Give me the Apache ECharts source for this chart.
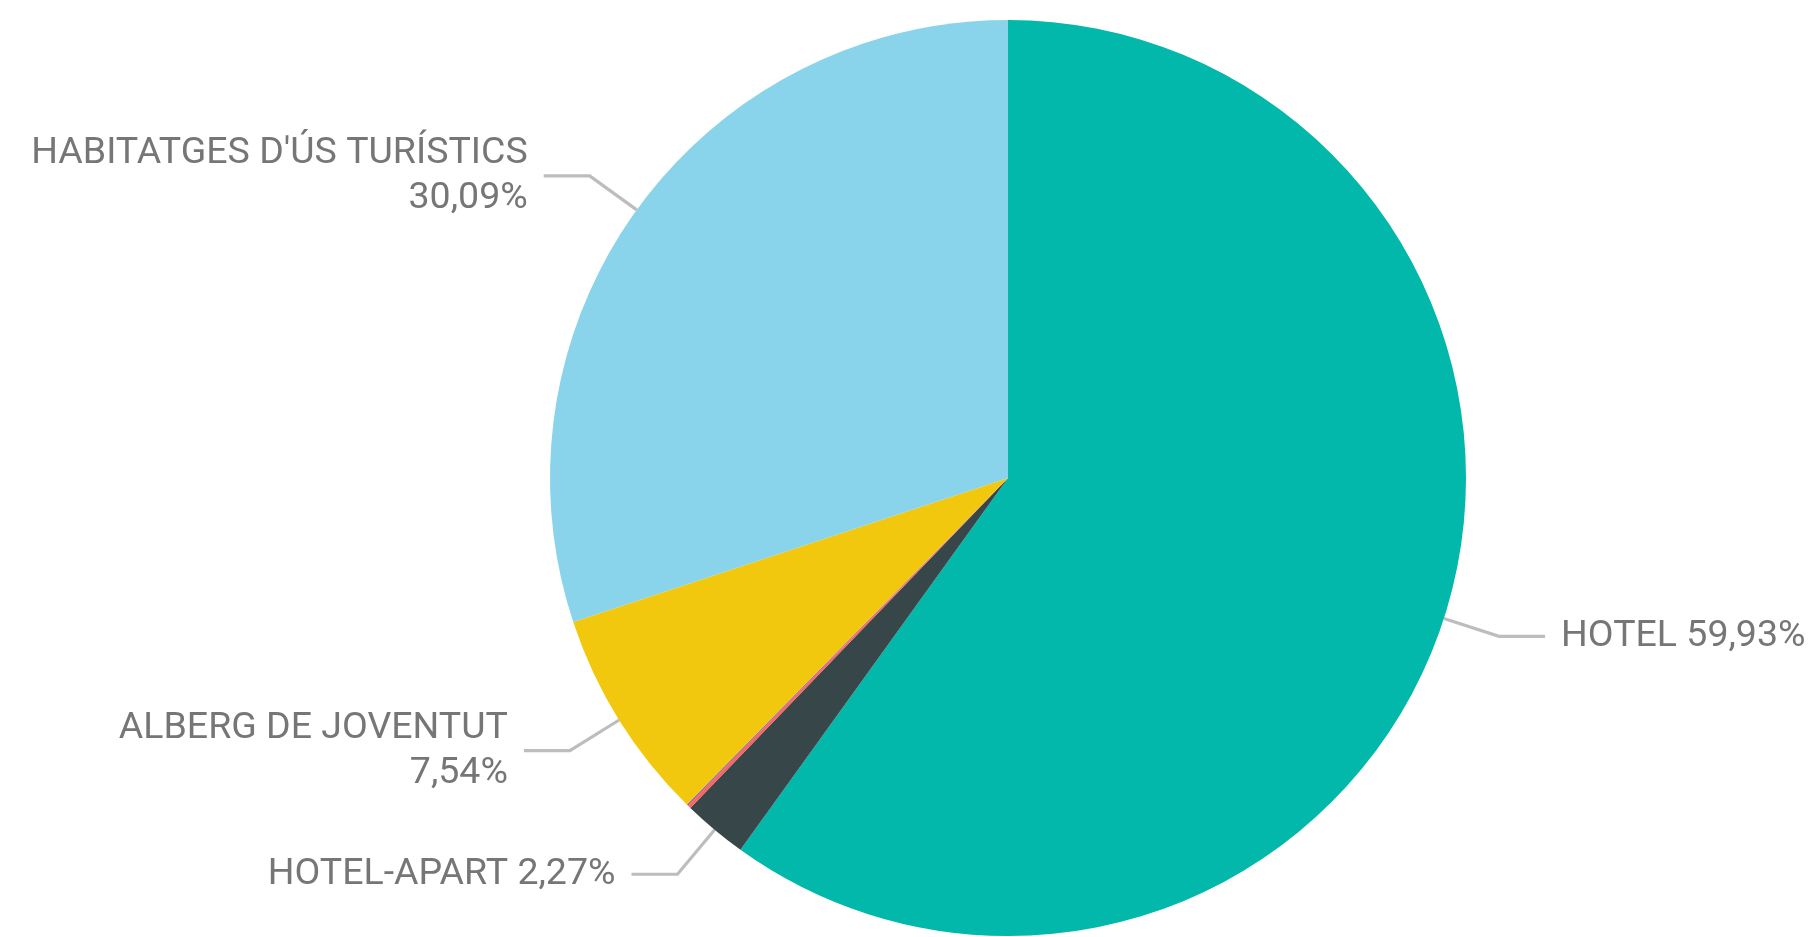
<!DOCTYPE html>
<html>
<head>
<meta charset="utf-8">
<script src="https://cdn.jsdelivr.net/npm/echarts@6/dist/echarts.min.js"></script>
<style>
  html, body { margin: 0; padding: 0; background: #ffffff; }
  #chart { width: 1814px; height: 937px; }
</style>
</head>
<body>
<div id="chart"></div>
<script>
// Share of tourist accommodation places by type (%)
const categories = [
  'HOTEL',
  'HOTEL-APART',
  'PENSIÓ',
  'CÀMPING',
  'ALBERG DE JOVENTUT',
  "HABITATGES D'ÚS TURÍSTICS"
];
const shares = [59.93, 2.27, 0.11, 0.06, 7.54, 30.09];
const colors = ['#01B8AA', '#374649', '#FD625E', '#A66999', '#F2C80F', '#8AD4EB'];
// labels broken over two lines
const twoLineLabels = ['ALBERG DE JOVENTUT', "HABITATGES D'ÚS TURÍSTICS"];
// slices too thin to carry a label
const unlabelled = ['PENSIÓ', 'CÀMPING'];

const fmt = v => v.toFixed(2).replace('.', ',') + '%';

const data = categories.map((name, i) => {
  const item = { name: name, value: shares[i], itemStyle: { color: colors[i] } };
  if (unlabelled.includes(name)) {
    item.label = { show: false };
    item.labelLine = { show: false };
  }
  return item;
});

const chart = echarts.init(document.getElementById('chart'), null, { renderer: 'canvas' });
chart.setOption({
  backgroundColor: '#ffffff',
  animation: false,
  series: [{
    type: 'pie',
    center: [1008, 478],
    radius: [0, 458],
    startAngle: 90,
    clockwise: true,
    avoidLabelOverlap: false,
    data: data,
    itemStyle: { borderWidth: 0 },
    label: {
      show: true,
      position: 'outside',
      fontFamily: 'Roboto',
      fontSize: 37.5,
      lineHeight: 45,
      color: '#767676',
      distanceToLabelLine: 16,
      formatter: p => twoLineLabels.includes(p.name)
        ? p.name + '\n' + fmt(p.value)
        : p.name + ' ' + fmt(p.value)
    },
    labelLine: {
      show: true,
      length: 58,
      length2: 46,
      lineStyle: { color: '#BDBDBD', width: 3.2 }
    },
    emphasis: { disabled: true }
  }]
});
</script>
</body>
</html>
